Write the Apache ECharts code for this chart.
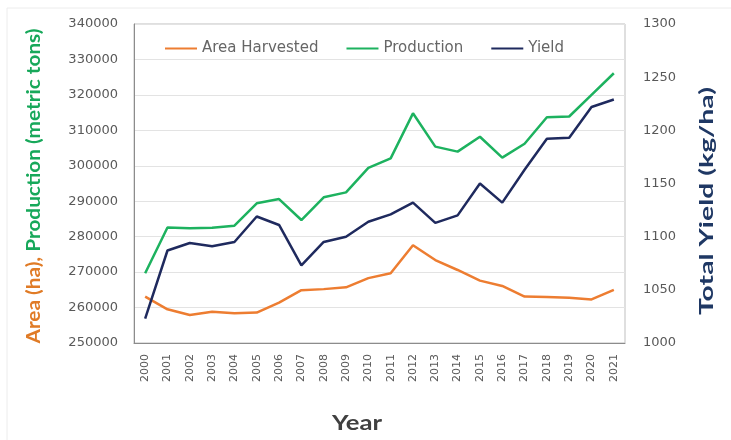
<!DOCTYPE html>
<html><head><meta charset="utf-8">
<script src="https://cdn.jsdelivr.net/npm/echarts@6/dist/echarts.min.js"></script>
<style>html,body{margin:0;padding:0;background:#fff}#c{width:731px;height:440px}</style>
</head><body><div id="c"></div>
<script>
var years = ['2000','2001','2002','2003','2004','2005','2006','2007','2008','2009','2010','2011','2012','2013','2014','2015','2016','2017','2018','2019','2020','2021'];
var areaHarvested = [263100,259500,257900,258800,258400,258600,261400,264900,265200,265700,268300,269700,277600,273400,270600,267600,266100,263100,263000,262800,262300,265000];
var production = [269700,282600,282400,282500,283100,289400,290600,284700,291100,292500,299400,302100,314800,305400,304000,308200,302300,306200,313700,313900,320000,326100];
var yieldVals = [1023,1087,1094,1091,1095,1119,1111,1073,1095,1100,1114,1121,1132,1113,1120,1150,1132,1163,1192,1193,1222,1229];
var leftTicks = {min:250000,max:340000,interval:10000};
var rightTicks = {min:1000,max:1300,interval:50};

var TICKFONT = '"DejaVu Sans", sans-serif';

function textW(txt, font){
  var c = document.createElement('canvas').getContext('2d');
  c.font = font; return c.measureText(txt).width;
}
var leftA = 'Area (ha),', leftB = ' Production (metric tons)';
var leftScale = 315 / textW(leftA + leftB, 'bold 18px Lato');
var rightT = 'Total Yield (kg/ha)';
var rightScale = 228 / textW(rightT, 'bold 19px Lato');
var yearScale = 50 / textW('Year', 'bold 21px Lato');

var chart = echarts.init(document.getElementById('c'));
chart.setOption({
  animation:false,
  backgroundColor:'#fff',
  grid:{left:134,right:106,top:24,bottom:97,show:true,borderColor:'#bfbfbf',borderWidth:1},
  legend:{top:36,left:160,itemGap:28,itemWidth:32,itemHeight:2,icon:'rect',
    textStyle:{color:'#666666',fontSize:15,fontFamily:TICKFONT},
    data:['Area Harvested','Production','Yield']},
  xAxis:{type:'category',data:years,boundaryGap:true,
    axisLine:{lineStyle:{color:'#8c8c8c',width:1}},axisTick:{show:false},
    axisLabel:{rotate:90,color:'#595959',fontSize:11,fontFamily:TICKFONT,margin:11}},
  yAxis:[
    {type:'value',min:leftTicks.min,max:leftTicks.max,interval:leftTicks.interval,
     axisLine:{show:true,lineStyle:{color:'#8c8c8c'}},axisTick:{show:false},
     axisLabel:{color:'#595959',fontSize:13,fontFamily:TICKFONT,margin:16,formatter:function(v){return String(v);}},
     splitLine:{lineStyle:{color:'#e3e3e3',width:1}}},
    {type:'value',min:rightTicks.min,max:rightTicks.max,interval:rightTicks.interval,
     axisLine:{show:false},axisTick:{show:false},
     axisLabel:{color:'#595959',fontSize:13,fontFamily:TICKFONT,margin:18,formatter:function(v){return String(v);}},
     splitLine:{show:false}}
  ],
  graphic:[
    {type:'rect',shape:{x:7,y:8,width:760,height:460},style:{fill:'none',stroke:'#ececec',lineWidth:1},silent:true},
    {type:'text',x:34,y:186,rotation:Math.PI/2,scaleX:leftScale,scaleY:1,
     style:{text:'{a|' + leftA + '}{b|' + leftB + '}',align:'center',verticalAlign:'middle',
      rich:{a:{fill:'#e07b26',fontSize:18,fontWeight:'bold',fontFamily:'Lato'},
            b:{fill:'#17a85a',fontSize:18,fontWeight:'bold',fontFamily:'Lato'}}}},
    {type:'text',x:707,y:201,rotation:Math.PI/2,scaleX:rightScale,scaleY:1,
     style:{text:rightT,align:'center',verticalAlign:'middle',fill:'#1f3864',
      fontSize:19,fontWeight:'bold',fontFamily:'Lato'}},
    {type:'text',x:357,y:423,scaleX:yearScale,
     style:{text:'Year',align:'center',verticalAlign:'middle',fill:'#404040',
      fontSize:21,fontWeight:'bold',fontFamily:'Lato'}}
  ],
  series:[
    {name:'Area Harvested',type:'line',yAxisIndex:0,data:areaHarvested,symbol:'none',
     lineStyle:{color:'#ed7d31',width:2.5},itemStyle:{color:'#ed7d31'}},
    {name:'Production',type:'line',yAxisIndex:0,data:production,symbol:'none',
     lineStyle:{color:'#1db25f',width:2.5},itemStyle:{color:'#1db25f'}},
    {name:'Yield',type:'line',yAxisIndex:1,data:yieldVals,symbol:'none',
     lineStyle:{color:'#1f2a5e',width:2.5},itemStyle:{color:'#1f2a5e'}}
  ]
});
</script></body></html>
